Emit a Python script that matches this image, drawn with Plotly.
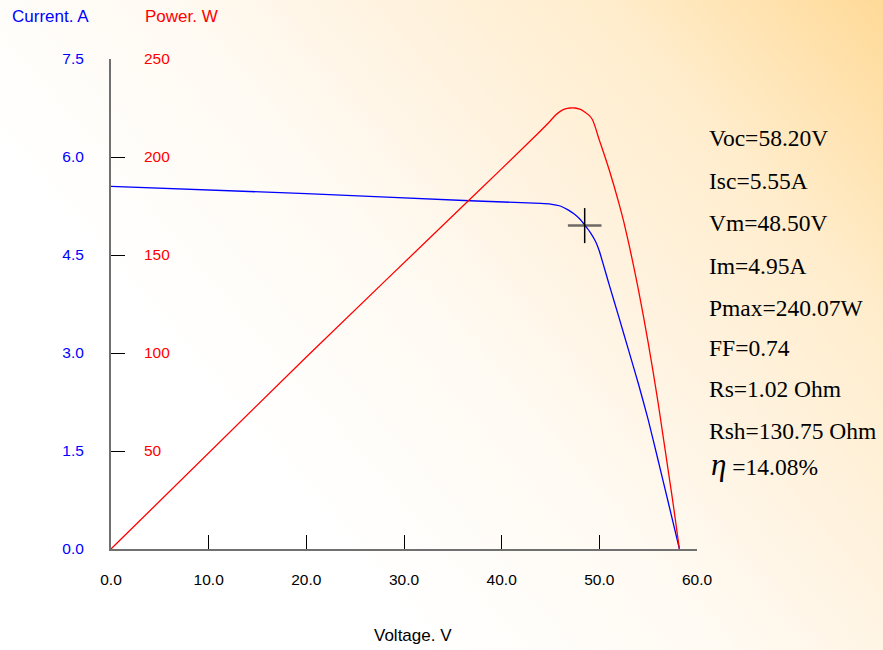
import base64
import plotly.graph_objects as go

# ---------------- data ----------------
voltage_iv = [0, 20, 36.75, 44, 45, 46, 46.8, 47.4, 48, 48.55, 49.1, 49.64,
              50, 51, 52, 53, 54, 55, 56, 57, 58.2]
current_iv = [5.55, 5.44, 5.33, 5.29, 5.28, 5.25, 5.19, 5.13, 5.05, 4.95, 4.84, 4.70,
              4.56, 4.05, 3.55, 3.04, 2.53, 1.98, 1.37, 0.75, 0.0]

voltage_p = [0, 20, 36.75, 43, 45, 45.5, 46, 46.5, 47, 47.5, 48, 48.5, 49, 49.3,
             49.6, 50, 50.5, 51, 51.5, 52, 52.5, 53, 53.5, 54, 54.5, 55, 55.5,
             56, 56.5, 57, 57.5, 58.2]
power_p = [0, 98, 178.4, 208.5, 218.5, 221.3, 223.3, 224.5, 225, 225, 224.4, 223,
           221, 219, 215, 208.6, 201.3, 193.6, 185.3, 176.5, 167, 156.2, 144.6, 132.3,
           119.2, 105.3, 90.6, 75.2, 58.5, 41.8, 25.1, 0]

vm, im = 48.5, 4.95

param_texts = ["Voc=58.20V", "Isc=5.55A", "Vm=48.50V", "Im=4.95A",
               "Pmax=240.07W", "FF=0.74", "Rs=1.02 Ohm", "Rsh=130.75 Ohm"]
eta_text = "=14.08%"

x_ticks = [0, 10, 20, 30, 40, 50, 60]
current_ticks = [0.0, 1.5, 3.0, 4.5, 6.0, 7.5]
power_ticks = [50, 100, 150, 200, 250]

# ---------------- geometry ----------------
W, H = 883, 650
L, T = 111, 59
R = W - 697
B = H - 549
PW = W - L - R
PH = H - T - B


def pxx(x):
    return (x - L) / PW


def pxy(y):
    return (H - B - y) / PH


BLUE = "rgb(0,0,255)"
RED = "rgb(255,0,0)"
SANS = "Liberation Sans, Arial, sans-serif"
SERIF = "Liberation Serif, Times New Roman, serif"

fig = go.Figure()

fig.add_trace(go.Scatter(x=voltage_p, y=power_p, mode="lines", yaxis="y2",
                         line=dict(color=RED, width=1.3, shape="spline", smoothing=0.5),
                         hoverinfo="skip", showlegend=False))
fig.add_trace(go.Scatter(x=voltage_iv, y=current_iv, mode="lines",
                         line=dict(color=BLUE, width=1.3, shape="spline", smoothing=0.5),
                         hoverinfo="skip", showlegend=False))
fig.add_trace(go.Scatter(x=[vm], y=[im], mode="markers", showlegend=False,
                         hoverinfo="skip",
                         marker=dict(symbol="line-ew", size=24,
                                     line=dict(color="rgba(60,60,60,0.75)", width=2.5))))
fig.add_trace(go.Scatter(x=[vm], y=[im], mode="markers", showlegend=False,
                         hoverinfo="skip",
                         marker=dict(symbol="line-ns", size=25,
                                     line=dict(color="black", width=1.5))))

# gradient background via inline svg
svg = (
    '<svg xmlns="http://www.w3.org/2000/svg" width="883" height="650" '
    'viewBox="0 0 883 650" preserveAspectRatio="none">'
    '<defs><linearGradient id="g" gradientUnits="userSpaceOnUse" '
    'x1="300" y1="500" x2="883" y2="0">'
    '<stop offset="0" stop-color="#FFFFFF"/>'
    '<stop offset="0.3" stop-color="#FFFAF2"/>'
    '<stop offset="0.5" stop-color="#FFF3E0"/>'
    '<stop offset="0.72" stop-color="#FFEDCD"/>'
    '<stop offset="1" stop-color="#FFDA98"/>'
    '</linearGradient></defs>'
    '<rect width="883" height="650" fill="url(#g)"/></svg>'
)
src = "data:image/svg+xml;base64," + base64.b64encode(svg.encode()).decode()

annotations = []
text_y = [139, 182, 224, 266.5, 308.5, 348.5, 390, 432]
for t, yy in zip(param_texts, text_y):
    annotations.append(dict(text=t, xref="paper", yref="paper", x=pxx(707),
                            y=pxy(yy - 1), xanchor="left", yanchor="middle",
                            showarrow=False,
                            font=dict(family=SERIF, size=23.5, color="black")))
annotations.append(dict(text="<span style='font-size:31px'><i>η</i></span> " + eta_text,
                        xref="paper", yref="paper", x=pxx(709), y=pxy(464),
                        xanchor="left", yanchor="middle", showarrow=False,
                        font=dict(family=SERIF, size=23.5, color="black")))
annotations.append(dict(text="Current. A", xref="paper", yref="paper", x=pxx(50),
                        y=pxy(16), xanchor="center", yanchor="middle", showarrow=False,
                        font=dict(family=SANS, size=17, color=BLUE)))
annotations.append(dict(text="Power. W", xref="paper", yref="paper", x=pxx(181),
                        y=pxy(16), xanchor="center", yanchor="middle", showarrow=False,
                        font=dict(family=SANS, size=17, color=RED)))
annotations.append(dict(text="Voltage. V", xref="paper", yref="paper", x=pxx(413),
                        y=pxy(635), xanchor="center", yanchor="middle", showarrow=False,
                        font=dict(family=SANS, size=17, color="black")))

fig.update_layout(
    width=W, height=H,
    margin=dict(l=L, r=R, t=T, b=B, pad=0),
    paper_bgcolor="white",
    plot_bgcolor="rgba(0,0,0,0)",
    images=[dict(source=src, xref="paper", yref="paper", x=-L / PW, y=1 + T / PH,
                 sizex=W / PW, sizey=H / PH, xanchor="left", yanchor="top",
                 sizing="stretch", layer="below")],
    xaxis=dict(range=[0, 60], tickvals=x_ticks, tickformat=".1f",
               showgrid=False, zeroline=False, showline=True,
               linecolor="#707070", linewidth=2, ticks="inside", ticklen=14,
               tickcolor="black", tickwidth=1, ticklabelstandoff=15,
               tickfont=dict(family=SANS, size=15.5, color="black")),
    yaxis=dict(range=[0, 7.5], tickvals=current_ticks, tickformat=".1f",
               showgrid=False, zeroline=False, showline=True,
               linecolor="#707070", linewidth=2, ticks="inside", ticklen=14,
               tickcolor="black", tickwidth=1, ticklabelstandoff=22,
               tickfont=dict(family=SANS, size=15.5, color=BLUE)),
    yaxis2=dict(range=[0, 250], tickvals=power_ticks, overlaying="y",
                side="right", anchor="free", position=pxx(143),
                showgrid=False, zeroline=False, showline=False, ticks="",
                tickfont=dict(family=SANS, size=15.5, color=RED)),
    annotations=annotations,
    showlegend=False,
    hovermode=False,
)

fig.write_html("out.html",
               config={"displayModeBar": False},
               post_script="document.body.style.margin='0';"
                           "document.body.style.overflow='hidden';")
